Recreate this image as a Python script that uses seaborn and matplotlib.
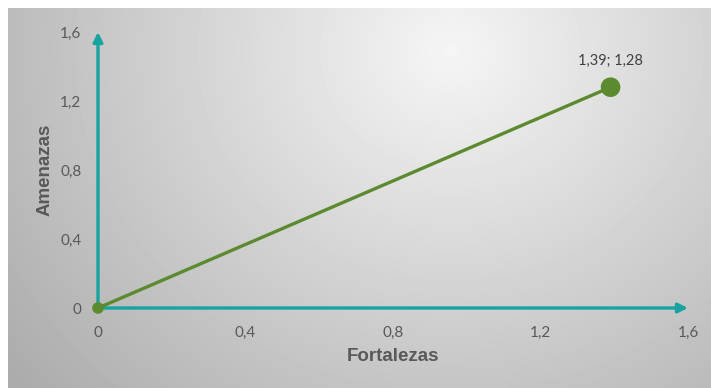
import numpy as np
import pandas as pd
import seaborn as sns
import matplotlib.pyplot as plt

# data
fortalezas = [0.0, 1.39]
amenazas = [0.0, 1.28]
marker_sizes = [70, 200]
x_ticks = [0, 0.4, 0.8, 1.2, 1.6]
y_ticks = [0, 0.4, 0.8, 1.2, 1.6]
point_label = "1,39; 1,28"

TEAL = '#17a39f'
GREEN = '#5b8a2f'
GREY_TXT = '#595959'


def fmt(v):
    return f'{v:g}'.replace('.', ',')


sns.set_theme(style='white')
plt.rcParams['font.family'] = ['Lato', 'DejaVu Sans']

W, H = 711, 388
fig = plt.figure(figsize=(W / 100, H / 100), dpi=100)
fig.patch.set_facecolor('white')

# radial gradient background (Excel-style fill), white border on top/left
bg = fig.add_axes([8 / W, 0, 1 - 8 / W, 1 - 8 / H])
yy, xx = np.mgrid[0:H - 8, 0:W - 8]
d = np.hypot(xx + 8 - 450, (yy + 8 - 50) * 1.1)
shade = np.clip(245 - 0.13 * d, 172, 250) / 255
bg.imshow(shade, cmap='gray', vmin=0, vmax=1, aspect='auto', interpolation='bilinear')
bg.set_axis_off()

ax = fig.add_axes([98 / W, 80 / H, (688 - 98) / W, (308 - 32) / H])
ax.patch.set_alpha(0)
ax.set_xlim(0, 1.6)
ax.set_ylim(0, 1.6)

df = pd.DataFrame({'Fortalezas': fortalezas, 'Amenazas': amenazas, 'size': marker_sizes})
sns.lineplot(data=df, x='Fortalezas', y='Amenazas', color=GREEN, linewidth=2.4, ax=ax, zorder=4)
sns.scatterplot(data=df, x='Fortalezas', y='Amenazas', s=df['size'], color=GREEN,
                edgecolor=GREEN, linewidth=0, ax=ax, zorder=5, legend=False)
for c in ax.collections:
    c.set_clip_on(False)

ax.annotate(point_label, (fortalezas[1], amenazas[1]), xytext=(0, 14),
            textcoords='offset points', ha='center', va='bottom',
            fontsize=10.5, color='#404040')

# axes with arrowheads
for end in [(1.6, 0), (0, 1.6)]:
    ax.annotate('', xy=end, xytext=(0, 0),
                arrowprops=dict(arrowstyle='-|>', color=TEAL, lw=2.4,
                                mutation_scale=14, shrinkA=0, shrinkB=0),
                annotation_clip=False, zorder=3)

for s in ax.spines.values():
    s.set_visible(False)

ax.set_xticks(x_ticks, [fmt(v) for v in x_ticks])
ax.set_yticks(y_ticks, [fmt(v) for v in y_ticks])
ax.tick_params(axis='both', length=0, labelsize=11, labelcolor=GREY_TXT)
ax.tick_params(axis='x', pad=13)
ax.tick_params(axis='y', pad=12)

ax.set_xlabel('Fortalezas', fontsize=13.5, fontweight='bold', color=GREY_TXT,
              family='Liberation Sans', labelpad=6)
ax.set_ylabel('Amenazas', fontsize=13.5, fontweight='bold', color=GREY_TXT,
              family='Liberation Sans', labelpad=5)

fig.savefig('out.png', dpi=100)
